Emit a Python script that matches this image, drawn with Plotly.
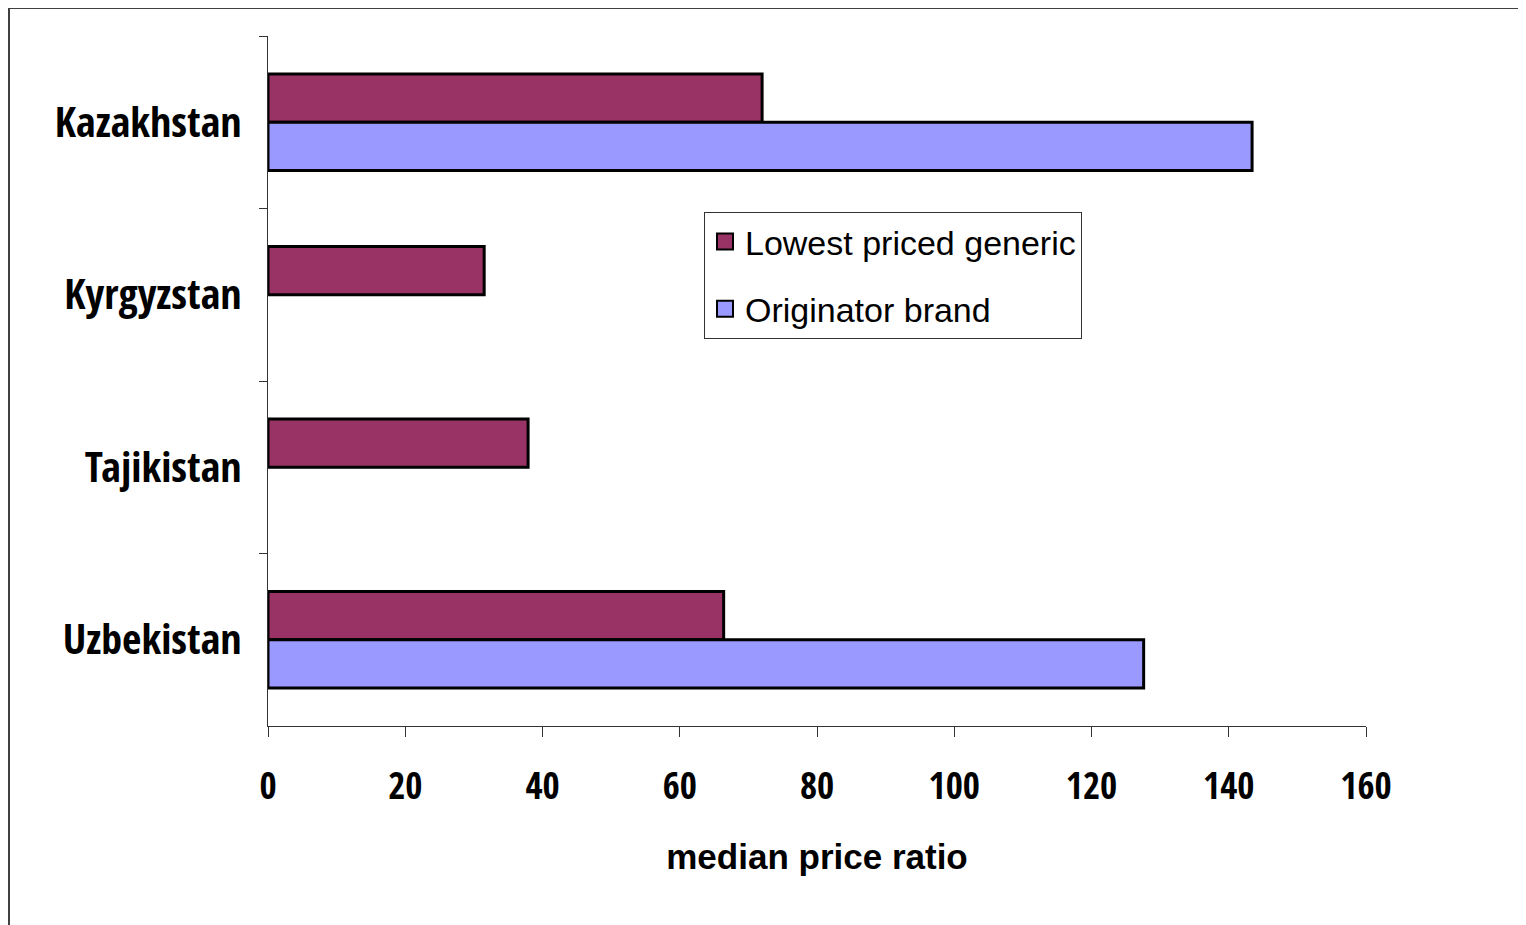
import plotly.graph_objects as go

countries = ["Kazakhstan", "Kyrgyzstan", "Tajikistan", "Uzbekistan"]
generic = [72.0, 31.5, 37.9, 66.4]
originator = [143.4, None, None, 127.6]
x_ticks = [0, 20, 40, 60, 80, 100, 120, 140, 160]

GEN_COLOR = "#993366"
ORIG_COLOR = "#9999FF"
NARROW = "Open Sans Condensed, Liberation Sans Narrow, Arial Narrow, sans-serif"
REG = "Liberation Sans, Arial, sans-serif"

# figure is placed 8px in from the window's top-left
W, H = 1518, 917
L, R, T, B = 260, 1518 - 1358, 28, 917 - 718
pw, ph = W - L - R, H - T - B

fig = go.Figure()
fig.add_trace(go.Bar(y=countries, x=generic, orientation="h", name="Lowest priced generic",
                     marker=dict(color=GEN_COLOR, line=dict(color="black", width=3)),
                     showlegend=False))
fig.add_trace(go.Bar(y=countries, x=originator, orientation="h", name="Originator brand",
                     marker=dict(color=ORIG_COLOR, line=dict(color="black", width=3)),
                     showlegend=False))
fig.add_trace(go.Scatter(x=[None], y=[None], mode="markers", name="Lowest priced generic",
                         legendgroup="g1",
                         marker=dict(symbol="square", size=18, color=GEN_COLOR,
                                     line=dict(color="black", width=2))))
fig.add_trace(go.Scatter(x=[None], y=[None], mode="markers", name="Originator brand",
                         legendgroup="g2",
                         marker=dict(symbol="square", size=18, color=ORIG_COLOR,
                                     line=dict(color="black", width=2))))

# frame edges at the figure's left and top
fig.add_shape(type="line", xref="paper", yref="paper", x0=(1 - L) / pw, x1=(1 - L) / pw,
              y0=(H - B - H - 10) / ph, y1=(H - B + 1) / ph,
              line=dict(color="#404040", width=2), layer="below")
fig.add_shape(type="line", xref="paper", yref="paper", x0=(0 - L) / pw, x1=(W + 10 - L) / pw,
              y0=(H - B - 0) / ph, y1=(H - B - 0) / ph,
              line=dict(color="#404040", width=2), layer="below")

fig.update_layout(
    width=W, height=H,
    margin=dict(l=L, r=R, t=T, b=B, pad=0),
    paper_bgcolor="white", plot_bgcolor="white",
    barmode="group", bargap=0.44, bargroupgap=0,
    showlegend=True,
    legend=dict(x=(696 - L) / pw, y=(H - B - 204) / ph, xanchor="left", yanchor="top",
                bgcolor="white", bordercolor="#333333", borderwidth=1,
                font=dict(family=REG, size=34, color="black"),
                itemsizing="trace", tracegroupgap=20),
    xaxis=dict(range=[0, 160], tickvals=x_ticks, ticktext=[str(v) for v in x_ticks],
               showgrid=False, zeroline=False, showline=True, linecolor="#333333", linewidth=1,
               ticks="outside", ticklen=10, tickcolor="#333333", tickwidth=1,
               ticklabelstandoff=18,
               tickfont=dict(family=NARROW, size=37, color="black", weight="bold"),
               title=dict(text="median price ratio", standoff=35,
                          font=dict(family=REG, size=35, color="black", weight="bold"))),
    yaxis=dict(categoryorder="array", categoryarray=countries, autorange="reversed",
               showgrid=False, zeroline=False, showline=True, linecolor="#333333", linewidth=1,
               ticks="outside", ticklen=8, tickcolor="#333333", tickwidth=1,
               tickson="boundaries", ticklabelstandoff=17,
               tickfont=dict(family=NARROW, size=42, color="black", weight="bold")),
)

fig.write_html("out.html")
